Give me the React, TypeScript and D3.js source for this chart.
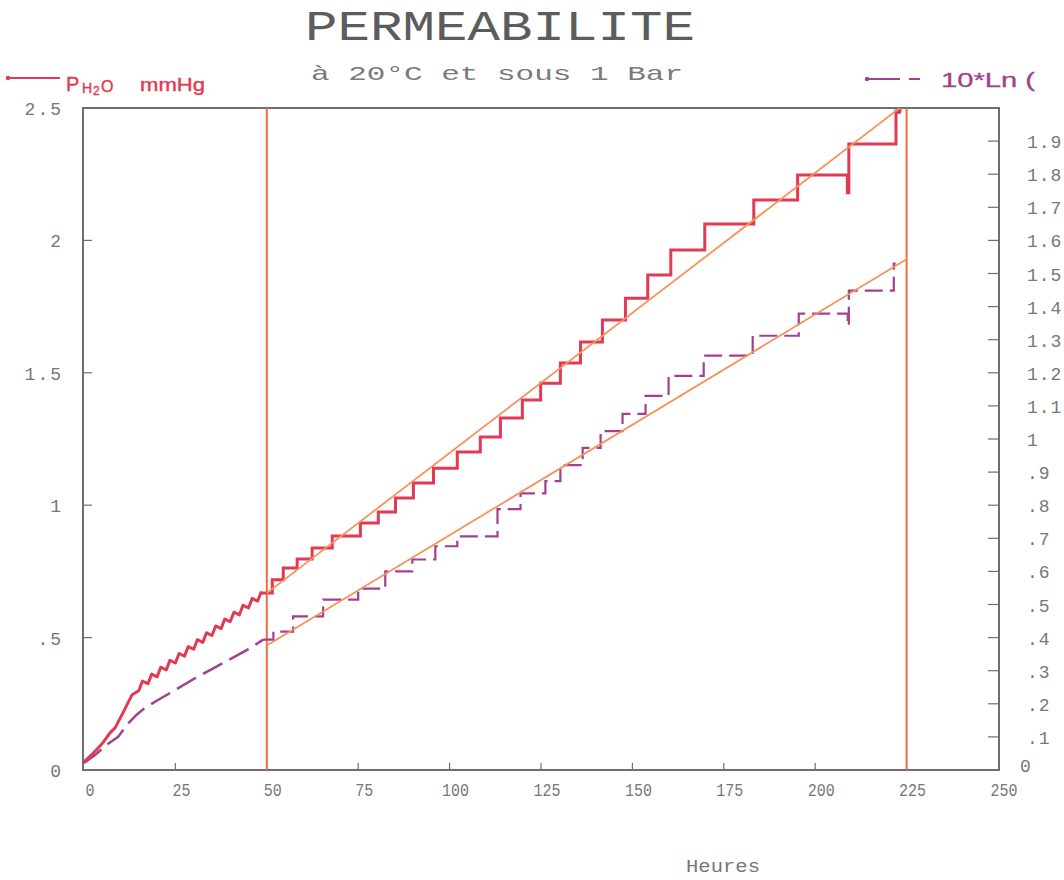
import React, { useRef, useEffect } from 'react';
import * as d3 from 'd3';

// Pressure curve (left axis, mmHg): continuous ramp before 50 h, then stepwise
const redRampHours = [0, 2.5, 5, 7.1, 8.5, 11, 13.1, 15, 16, 17.5, 18.5, 20, 21, 22.5, 23.5, 25, 26, 27.5, 28.5, 30, 31, 32.5, 33.5, 35, 36, 37.5, 38.5, 40, 41, 42.5, 43.5, 45, 46, 47.5, 48.5];
const redRampValues = [0.031, 0.063, 0.1, 0.14, 0.159, 0.225, 0.283, 0.3, 0.336, 0.326, 0.362, 0.352, 0.388, 0.378, 0.414, 0.404, 0.44, 0.43, 0.466, 0.456, 0.492, 0.482, 0.518, 0.508, 0.544, 0.534, 0.57, 0.56, 0.596, 0.586, 0.622, 0.612, 0.648, 0.638, 0.674];
const redStepHours = [48.5, 51.5, 54.5, 58.3, 62.4, 67.9, 75.6, 80.5, 85.2, 90.1, 95.6, 102.1, 108.4, 113.9, 119.9, 124.9, 130.3, 135.8, 141.8, 148.1, 154.2, 160.5, 169.8, 183.2, 195.2, 208.8, 209.2, 222.1, 222.8];
const redStepValues = [0.668, 0.718, 0.763, 0.797, 0.838, 0.884, 0.933, 0.974, 1.027, 1.084, 1.14, 1.201, 1.258, 1.329, 1.397, 1.461, 1.537, 1.616, 1.699, 1.782, 1.869, 1.964, 2.062, 2.153, 2.247, 2.18, 2.364, 2.489, 2.489];

// 10*Ln( ... ) curve (right axis)
const purpleRampHours = [0, 3, 6.2, 9.3, 12, 14.4, 16.7, 20, 25, 30, 35, 40, 45, 49];
const purpleRampValues = [0.021, 0.045, 0.076, 0.1, 0.14, 0.167, 0.188, 0.21, 0.242, 0.275, 0.305, 0.335, 0.365, 0.394];
const purpleStepHours = [49, 51.8, 57.2, 65.4, 75, 82.4, 89.8, 96.1, 102.1, 113.1, 119.4, 126.2, 130.3, 136.4, 141.3, 147.3, 153.6, 159.9, 169.5, 182.9, 195.5, 208.9, 209.2, 221.5, 222];
const purpleStepValues = [0.394, 0.418, 0.464, 0.515, 0.548, 0.6, 0.636, 0.676, 0.706, 0.788, 0.836, 0.873, 0.921, 0.973, 1.024, 1.076, 1.13, 1.191, 1.252, 1.312, 1.379, 1.342, 1.448, 1.53, 1.53];

// linear fits between the two markers
const fitHours = [50, 225];
const redFitValues = [0.668, 2.52];
const purpleFitValues = [0.376, 1.543];
const markerHours = [50, 225];

const xTicks = [0, 25, 50, 75, 100, 125, 150, 175, 200, 225, 250];
const leftTicks = [0, 0.5, 1, 1.5, 2, 2.5];
const leftLabels = ['0', '.5', '1', '1.5', '2', '2.5'];
const rightTicks = [0, 0.1, 0.2, 0.3, 0.4, 0.5, 0.6, 0.7, 0.8, 0.9, 1, 1.1, 1.2, 1.3, 1.4, 1.5, 1.6, 1.7, 1.8, 1.9];
const rightLabels = ['0', '.1', '.2', '.3', '.4', '.5', '.6', '.7', '.8', '.9', '1', '1.1', '1.2', '1.3', '1.4', '1.5', '1.6', '1.7', '1.8', '1.9'];

const RED = '#e23a52';
const PURPLE = '#a2408f';
const ORANGE = '#f7925a';
const MARKER = '#f36a3e';
const GREY = '#6e6e6e';
const MONO = '"Liberation Mono", "DejaVu Sans Mono", monospace';
const SANS = '"Liberation Sans", Arial, sans-serif';

const App = () => {
  const ref = useRef<SVGSVGElement>(null);

  useEffect(() => {
    const svg = d3.select(ref.current);
    svg.selectAll('*').remove();

    const left = 84, right = 998, top = 108, bottom = 770;

    const x = d3.scaleLinear().domain([0, 250]).range([left, right]);
    const yL = d3.scaleLinear().domain([0, 2.5]).range([bottom, top]);
    const yR = d3.scaleLinear().domain([0, 2]).range([bottom, top]);

    svg.append('defs').append('clipPath').attr('id', 'plot-clip')
      .append('rect')
      .attr('x', left - 1).attr('y', top)
      .attr('width', right - left + 2).attr('height', bottom - top);

    // Titles
    svg.append('text')
      .attr('x', 500).attr('y', 40)
      .attr('text-anchor', 'middle')
      .attr('textLength', 390).attr('lengthAdjust', 'spacingAndGlyphs')
      .style('font-family', MONO).style('font-size', '42px')
      .attr('fill', '#5c5c5c')
      .text('PERMEABILITE');

    svg.append('text')
      .attr('x', 497).attr('y', 80)
      .attr('text-anchor', 'middle')
      .attr('textLength', 372).attr('lengthAdjust', 'spacingAndGlyphs')
      .style('font-family', MONO).style('font-size', '21px')
      .attr('fill', '#7a7a7a')
      .text('à 20°C et sous 1 Bar');

    // Left legend
    const legL = svg.append('g');
    legL.append('line').attr('x1', 8).attr('x2', 60).attr('y1', 78).attr('y2', 78)
      .attr('stroke', RED).attr('stroke-width', 2);
    legL.append('circle').attr('cx', 8).attr('cy', 78).attr('r', 2.2).attr('fill', RED);
    const legText = [
      { t: 'P', x: 66, y: 91, s: 20 },
      { t: 'H', x: 82, y: 93, s: 14 },
      { t: '2', x: 93, y: 95, s: 12 },
      { t: 'O', x: 101, y: 92, s: 16 }
    ];
    legText.forEach(d => {
      legL.append('text')
        .attr('x', d.x).attr('y', d.y)
        .style('font-family', SANS).style('font-size', `${d.s}px`)
        .attr('fill', RED).attr('stroke', RED).attr('stroke-width', 0.4)
        .text(d.t);
    });
    legL.append('text')
      .attr('x', 140).attr('y', 91)
      .attr('textLength', 65).attr('lengthAdjust', 'spacingAndGlyphs')
      .style('font-family', SANS).style('font-size', '19px')
      .attr('fill', RED).attr('stroke', RED).attr('stroke-width', 0.4)
      .text('mmHg');

    // Right legend
    const legR = svg.append('g');
    legR.append('line').attr('x1', 867).attr('x2', 900).attr('y1', 79).attr('y2', 79)
      .attr('stroke', PURPLE).attr('stroke-width', 2);
    legR.append('line').attr('x1', 909).attr('x2', 920).attr('y1', 79).attr('y2', 79)
      .attr('stroke', PURPLE).attr('stroke-width', 2);
    legR.append('circle').attr('cx', 867).attr('cy', 79).attr('r', 2.2).attr('fill', PURPLE);
    legR.append('text')
      .attr('x', 941).attr('y', 87)
      .attr('textLength', 94).attr('lengthAdjust', 'spacingAndGlyphs')
      .style('font-family', SANS).style('font-size', '20px')
      .attr('fill', PURPLE).attr('stroke', PURPLE).attr('stroke-width', 0.3)
      .text('10*Ln (');

    // Frame
    svg.append('rect')
      .attr('x', left - 1).attr('y', top)
      .attr('width', right - left + 2).attr('height', bottom - top)
      .attr('fill', 'none').attr('stroke', GREY).attr('stroke-width', 2);

    // Ticks (pointing inward)
    svg.append('g').selectAll('line').data(xTicks.slice(1, -1)).join('line')
      .attr('x1', d => x(d)).attr('x2', d => x(d))
      .attr('y1', bottom).attr('y2', bottom - 7)
      .attr('stroke', GREY).attr('stroke-width', 1.2);
    svg.append('g').selectAll('line').data(leftTicks.slice(1, -1)).join('line')
      .attr('x1', left - 1).attr('x2', left + 8)
      .attr('y1', d => yL(d)).attr('y2', d => yL(d))
      .attr('stroke', GREY).attr('stroke-width', 1.2);
    svg.append('g').selectAll('line').data(rightTicks.slice(1)).join('line')
      .attr('x1', right + 1).attr('x2', right - 10)
      .attr('y1', d => yR(d)).attr('y2', d => yR(d))
      .attr('stroke', GREY).attr('stroke-width', 1.2);

    // Tick labels
    svg.append('g').selectAll('text').data(xTicks).join('text')
      .attr('x', d => x(d) + 6).attr('y', 796)
      .attr('text-anchor', 'middle')
      .attr('textLength', d => String(d).length * 9).attr('lengthAdjust', 'spacingAndGlyphs')
      .style('font-family', MONO).style('font-size', '19px')
      .attr('fill', '#777')
      .text(d => String(d));

    svg.append('g').selectAll('text').data(leftTicks).join('text')
      .attr('x', 63).attr('y', d => yL(d) + 7)
      .attr('text-anchor', 'end')
      .style('font-family', MONO).style('font-size', '18px').style('letter-spacing', '2px')
      .attr('fill', '#777')
      .text((d, i) => leftLabels[i]);

    svg.append('g').selectAll('text').data(rightTicks).join('text')
      .attr('x', (d, i) => (i === 0 ? 1020 : 1027)).attr('y', (d, i) => yR(d) + (i === 0 ? 2 : 7))
      .style('font-family', MONO).style('font-size', '18px').style('letter-spacing', '1px')
      .attr('fill', '#777')
      .text((d, i) => rightLabels[i]);

    svg.append('text')
      .attr('x', 723).attr('y', 872)
      .attr('text-anchor', 'middle')
      .attr('textLength', 74).attr('lengthAdjust', 'spacingAndGlyphs')
      .style('font-family', MONO).style('font-size', '18px')
      .attr('fill', '#777')
      .text('Heures');

    const plot = svg.append('g').attr('clip-path', 'url(#plot-clip)');

    // Marker lines at 50 h and 225 h
    plot.selectAll('line.marker').data(markerHours).join('line')
      .attr('class', 'marker')
      .attr('x1', d => x(d)).attr('x2', d => x(d))
      .attr('y1', top).attr('y2', bottom)
      .attr('stroke', MARKER).attr('stroke-width', 2);

    const lineL = d3.line<[number, number]>().x(d => x(d[0])).y(d => yL(d[1]));
    const lineR = d3.line<[number, number]>().x(d => x(d[0])).y(d => yR(d[1]));
    const stepL = d3.line<[number, number]>().x(d => x(d[0])).y(d => yL(d[1])).curve(d3.curveStepAfter);
    const stepR = d3.line<[number, number]>().x(d => x(d[0])).y(d => yR(d[1])).curve(d3.curveStepAfter);

    const zip = (a: number[], b: number[]) => a.map((t, i) => [t, b[i]] as [number, number]);

    // Purple (dashed)
    plot.append('path')
      .attr('d', lineR(zip(purpleRampHours, purpleRampValues)))
      .attr('fill', 'none').attr('stroke', PURPLE).attr('stroke-width', 2.5)
      .attr('stroke-dasharray', '22,8');
    plot.append('path')
      .attr('d', stepR(zip(purpleStepHours, purpleStepValues)))
      .attr('fill', 'none').attr('stroke', PURPLE).attr('stroke-width', 2.2)
      .attr('stroke-dasharray', '18,7');

    // Red (solid)
    plot.append('path')
      .attr('d', lineL(zip(redRampHours, redRampValues)))
      .attr('fill', 'none').attr('stroke', RED).attr('stroke-width', 3)
      .attr('stroke-linejoin', 'round');
    plot.append('path')
      .attr('d', stepL(zip(redStepHours, redStepValues)))
      .attr('fill', 'none').attr('stroke', RED).attr('stroke-width', 3);
    plot.append('circle')
      .attr('cx', x(redStepHours[redStepHours.length - 1]))
      .attr('cy', yL(redStepValues[redStepValues.length - 1]))
      .attr('r', 3).attr('fill', RED);

    // Fit lines
    plot.append('path')
      .attr('d', lineL(zip(fitHours, redFitValues)))
      .attr('fill', 'none').attr('stroke', ORANGE).attr('stroke-width', 1.8);
    plot.append('path')
      .attr('d', lineR(zip(fitHours, purpleFitValues)))
      .attr('fill', 'none').attr('stroke', ORANGE).attr('stroke-width', 1.8);
  }, []);

  return (
    <svg
      ref={ref}
      width={1064}
      height={880}
      style={{ position: 'absolute', left: 0, top: 0, background: '#fff' }}
    />
  );
};

export default App;
